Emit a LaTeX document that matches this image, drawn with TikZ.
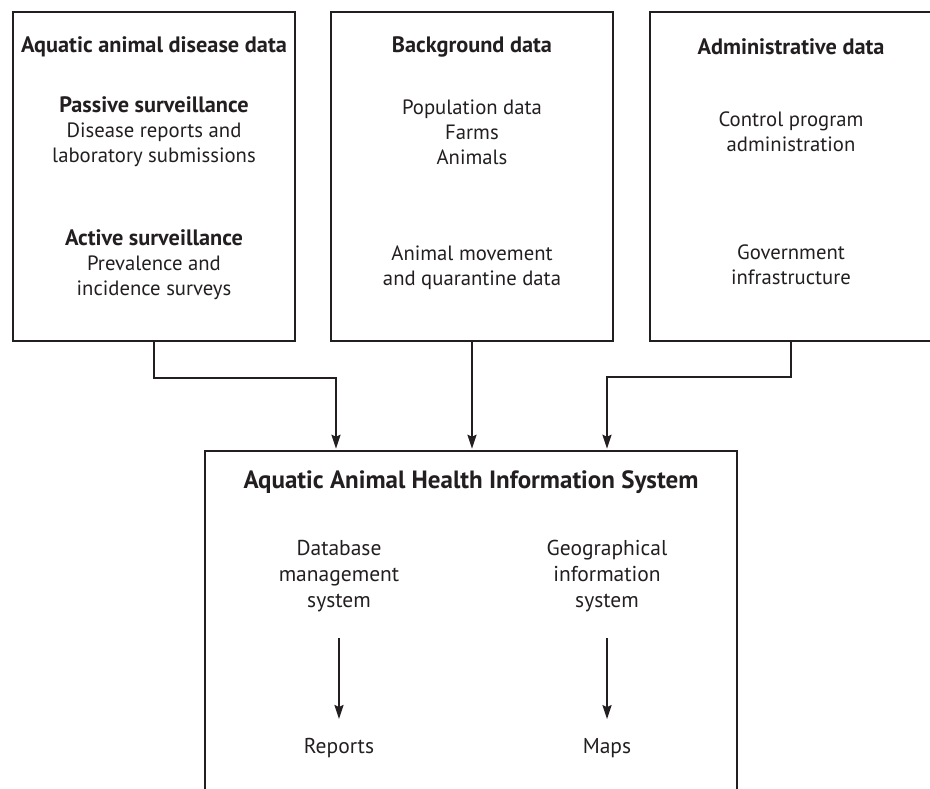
\documentclass[tikz,border=0pt]{standalone}
\usepackage{fontspec}
\setmainfont{PT Sans}
\usetikzlibrary{arrows.meta}

\definecolor{ink}{HTML}{231F20}

\tikzset{
  box/.style={draw=ink, line width=2.4pt, minimum width=282pt, minimum height=329pt, inner sep=0pt},
  txt/.style={text=ink, align=center, inner sep=0pt, font=\fontsize{20.7}{25}\selectfont},
  head/.style={txt, font=\fontsize{22.3}{25}\selectfont\bfseries},
  link/.style={draw=ink, line width=2.2pt},
  arr/.style={link, -{Stealth[length=14pt,width=9pt,inset=2pt]}}
}

\newcommand{\sub}[1]{{\fontsize{22.3}{25}\selectfont\bfseries #1}}

\begin{document}
\begin{tikzpicture}[x=1pt,y=-1pt]

  \useasboundingbox (0,0) rectangle (930,789);

  % the three data sources
  \foreach \x/\n in {154/adis, 472/bgd, 791/adm} {
    \node[box] (\n) at (\x,176.5) {};
  }

  \node[head] (adis-t) at (154,47) {Aquatic animal disease data};
  \node[txt]  (adis-p) at (154,132) {\sub{Passive surveillance}\\Disease reports and\\laboratory submissions};
  \node[txt]  (adis-a) at (154,265) {\sub{Active surveillance}\\Prevalence and\\incidence surveys};

  \node[head] (bgd-t) at (472,47)  {Background data};
  \node[txt]  (bgd-p) at (472,132) {Population data\\Farms\\Animals};
  \node[txt]  (bgd-m) at (472,268) {Animal movement\\and quarantine data};

  \node[head] (adm-t) at (791,47)  {Administrative data};
  \node[txt]  (adm-c) at (791,132) {Control program\\administration};
  \node[txt]  (adm-g) at (791,265) {Government\\infrastructure};

  % the information system, cut off at the bottom
  \node[box, minimum width=532pt, minimum height=360pt] (ahis) at (471,631) {};

  \node[head, font=\fontsize{25}{30}\selectfont\bfseries] (ahis-t) at (471,482) {Aquatic Animal Health Information System};
  \node[txt, font=\fontsize{21.5}{26}\selectfont] (dbms) at (339,576) {Database\\management\\system};
  \node[txt, font=\fontsize{21.5}{26}\selectfont] (gis)  at (607,576) {Geographical\\information\\system};
  \node[txt, font=\fontsize{21.5}{26}\selectfont] (rep)  at (339,748) {Reports};
  \node[txt, font=\fontsize{21.5}{26}\selectfont] (maps) at (607,748) {Maps};

  \draw[arr] ([yshift=-26pt]dbms.south) -- ([yshift=19pt]rep.north);
  \draw[arr] ([yshift=-26pt]gis.south)  -- ([yshift=19pt]maps.north);

  % connectors
  \draw[arr] (adis.south) -- ++(0,36) -| ([xshift=-135pt,yshift=1pt]ahis.north);
  \draw[arr] (bgd.south) -- ([xshift=1pt,yshift=1pt]ahis.north);
  \draw[arr] (adm.south) -- ++(0,35) -| ([xshift=136pt,yshift=1pt]ahis.north);

\end{tikzpicture}
\end{document}
